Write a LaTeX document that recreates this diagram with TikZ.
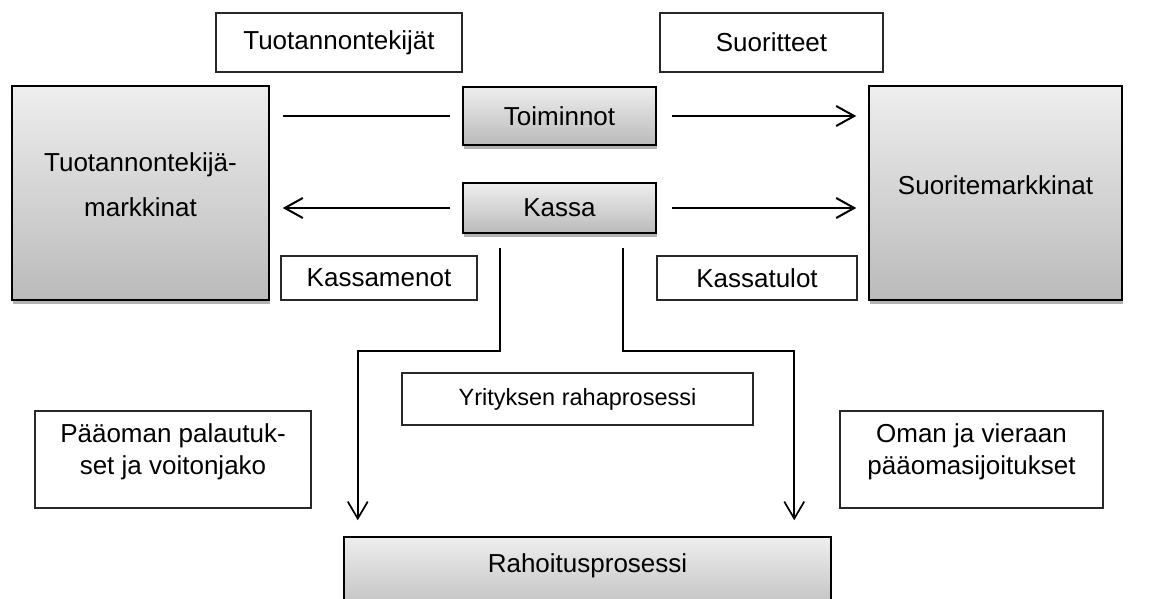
\documentclass[tikz,border=0pt]{standalone}
\usepackage{fontspec}
\setmainfont{Liberation Sans}
\usetikzlibrary{arrows.meta,shadows,calc}
\definecolor{gtop}{RGB}{238,238,238}
\definecolor{gbot}{RGB}{186,186,186}
\definecolor{wline}{RGB}{40,40,40}
\begin{document}
\begin{tikzpicture}[x=1pt,y=-1pt,
  every node/.style={font=\fontsize{26}{32}\selectfont, inner sep=0pt, rectangle},
  gbox/.style={draw=black, line width=1.5pt, top color=gtop, bottom color=gbot,
    drop shadow={shadow xshift=1pt, shadow yshift=-4pt, opacity=0.3, fill=black}},
  wbox/.style={draw=wline, line width=1.1pt, fill=white},
  arr/.style={line width=2pt, -{Straight Barb[length=18pt,width=20pt]}},
  plainline/.style={line width=1.3pt},
  elbow/.style={line width=1.7pt, -{Straight Barb[length=17pt,width=20pt]}}
]
\clip (0,0) rectangle (1151,599);
\fill[white] (0,0) rectangle (1151,599);

% label boxes
\node[wbox, minimum width=246pt, minimum height=59pt] (tf) at (339,42.5) {Tuotannontekijät};
\node[wbox, minimum width=223pt, minimum height=59pt] (su) at (771.5,42.5) {Suoritteet};

% markets
\node[gbox, minimum width=257pt, minimum height=214pt, align=center,
  font=\fontsize{26}{45}\selectfont, text depth=16pt] (tm) at (140.5,193) {Tuotannontekijä-\\markkinat};
\node[gbox, minimum width=253pt, minimum height=214pt, text depth=15pt] (sm) at (995.5,193) {Suoritemarkkinat};

% centre boxes
\node[gbox, minimum width=193pt, minimum height=58pt] (to) at (559.5,116) {Toiminnot};
\node[gbox, minimum width=193pt, minimum height=50pt] (ka) at (559.5,208) {Kassa};

\node[wbox, minimum width=196pt, minimum height=44pt] (km) at (379,278) {Kassamenot};
\node[wbox, minimum width=200pt, minimum height=44pt] (kt) at (757,278) {Kassatulot};

\node[wbox, minimum width=351pt, minimum height=52pt, font=\fontsize{23.5}{28}\selectfont] (yr) at (577.5,399) {Yrityksen rahaprosessi};

\node[wbox, minimum width=276pt, minimum height=97pt, align=center, text depth=20pt] (pp) at (173,459.5) {Pääoman palautuk-\\set ja voitonjako};
\node[wbox, minimum width=263pt, minimum height=97pt, align=center, text depth=20pt] (ov) at (971.5,459.5) {Oman ja vieraan\\pääomasijoitukset};

\node[gbox, minimum width=487pt, minimum height=83pt, text depth=30pt] (ra) at (587.5,578.5) {Rahoitusprosessi};

% connectors
\draw[plainline, shorten <=13pt, shorten >=12pt] (tm.east |- to.west) -- (to.west);
\draw[arr, shorten <=15pt, shorten >=12pt] (to.east) -- (sm.west |- to.east);
\draw[arr, shorten <=12pt, shorten >=13pt] (ka.west) -- (tm.east |- ka.west);
\draw[arr, shorten <=15pt, shorten >=12pt] (ka.east) -- (sm.west |- ka.east);

\coordinate (kl) at ($(ka.south)+(-59.5,14)$);
\coordinate (kr) at ($(ka.south)+(63.5,14)$);
\coordinate (rl) at ($(ra.north west)+(14.5,0)$);
\coordinate (rr) at ($(ra.north east)+(-37.5,0)$);
\draw[elbow, shorten >=16pt] (kl) -- ++(0,103) -| (rl);
\draw[elbow, shorten >=16pt] (kr) -- ++(0,103) -| (rr);
\end{tikzpicture}
\end{document}
